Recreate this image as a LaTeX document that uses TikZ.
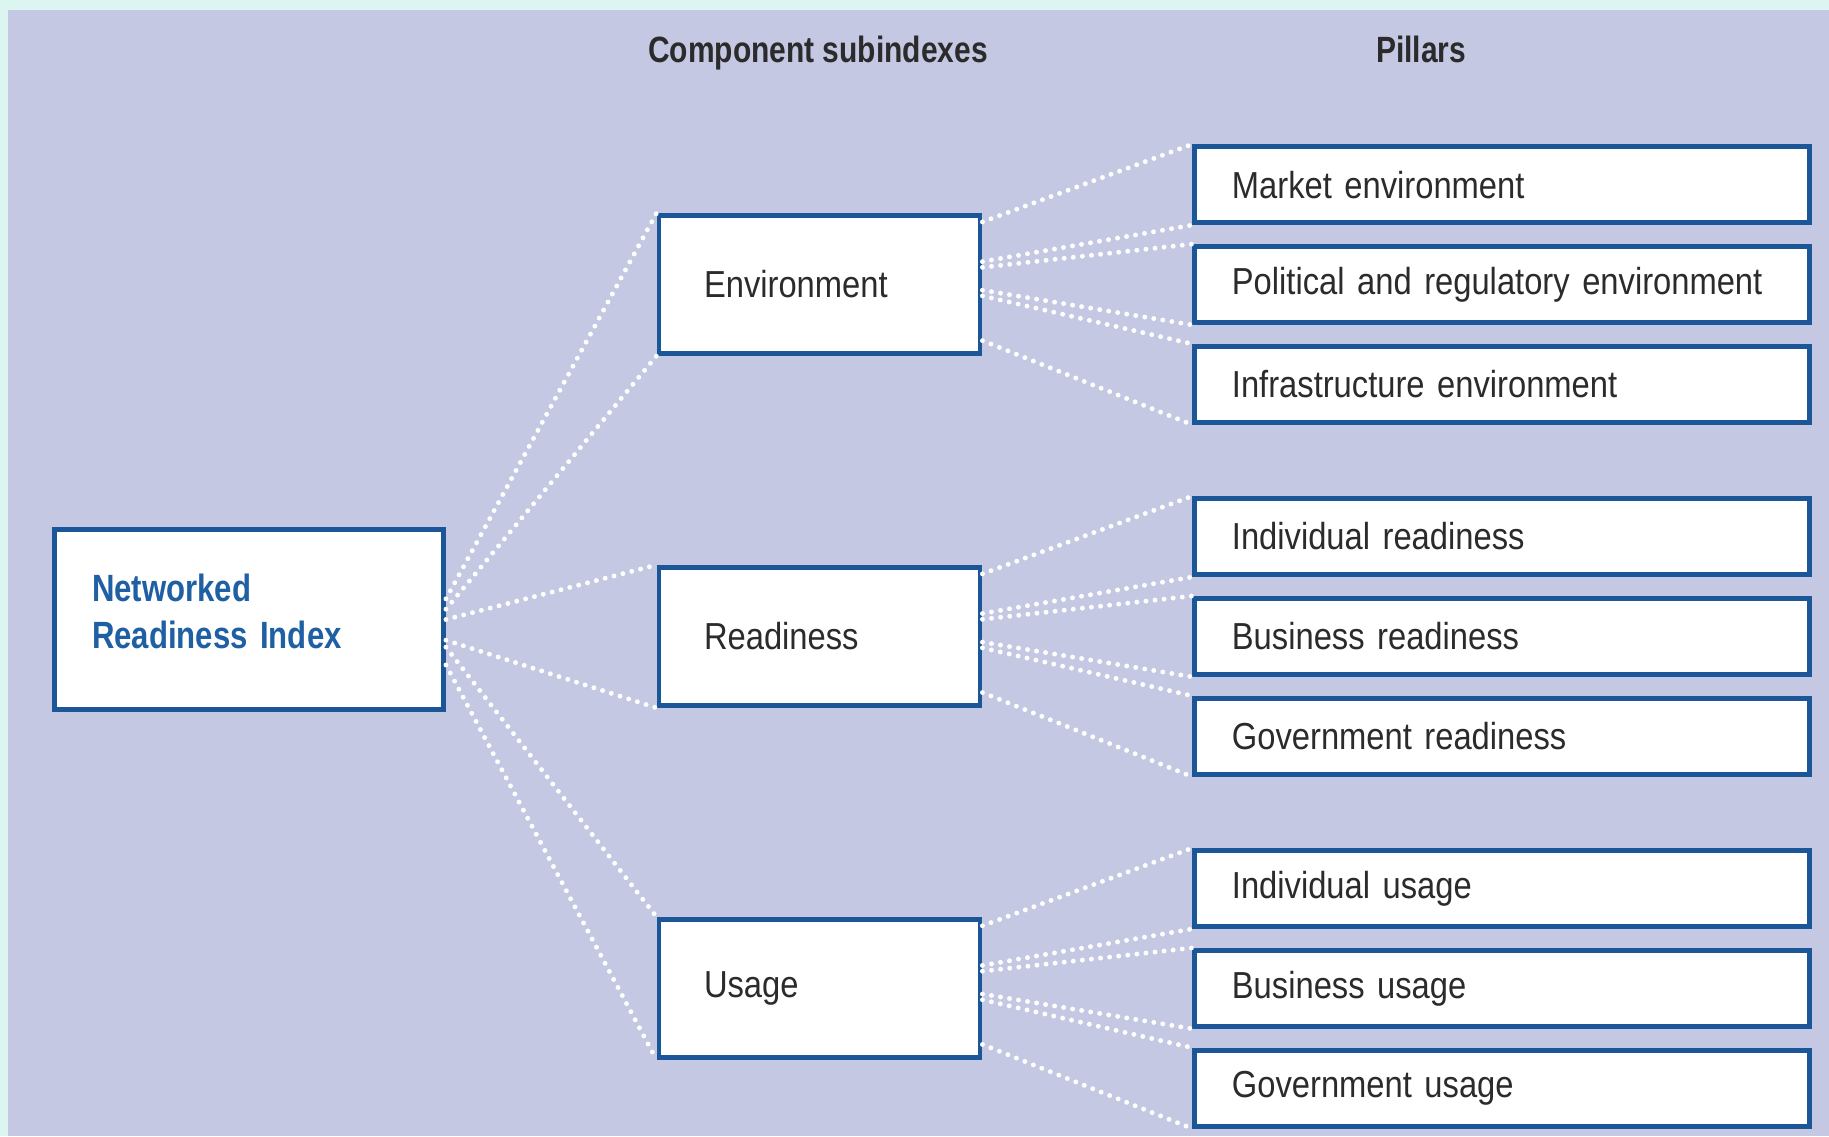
\documentclass[tikz,border=0pt]{standalone}
\usepackage{fontspec}
\setmainfont[FakeStretch=0.87]{Liberation Sans}
\newfontfamily\headfont[FakeStretch=0.82]{Liberation Sans}
\usetikzlibrary{positioning}
\definecolor{mintbg}{HTML}{DCF5F0}
\definecolor{panelbg}{HTML}{C4C8E2}
\definecolor{boxblue}{HTML}{1B5798}
\definecolor{nriblue}{HTML}{1F5FA3}
\definecolor{textgrey}{HTML}{2B2B2B}
\tikzset{
	box/.style={draw=boxblue, line width=1.4pt, fill=white, align=left, text=textgrey, font=\fontsize{10.7}{13}\selectfont},
	indexbox/.style={box, minimum height=1.80cm, inner xsep=0.375cm, text width=3.14cm, text depth=0.63cm, text=nriblue, font=\headfont\bfseries\fontsize{10.8}{13.4}\selectfont},
	subbox/.style={box, minimum height=1.38cm, inner xsep=0.45cm, text width=2.31cm},
	pillarbox/.style={box, minimum height=0.76cm, inner xsep=0.37cm, text width=5.41cm},
	heading/.style={anchor=base, text=textgrey, font=\headfont\bfseries\fontsize{10.4}{13}\selectfont},
	link/.style={white, line width=1.4pt, dash pattern=on 0pt off 2.6pt, line cap=round}
}

\begin{document}
\begin{tikzpicture}
			\useasboundingbox (0,0) rectangle (18.29,11.36);
			\fill[mintbg] (0,0) rectangle (18.29,11.36);
			\fill[panelbg] (0.08,0) rectangle (18.29,11.26);

			\node[heading] (subhead) at (8.18,10.74) {Component subindexes};
			\node[heading] (pillarhead) at (14.21,10.74) {Pillars};

			\node[indexbox] (nri) at (2.49,5.165) {Networked\\Readiness Index};

			\node[subbox] (env) at (8.195,8.515) {Environment};
			\node[subbox, below=2.09cm of env] (readiness) {Readiness};
			\node[subbox, below=2.09cm of readiness] (usage) {Usage};

			\node[pillarbox, right=2.1cm of env] (political) {Political and regulatory environment};
			\node[pillarbox, above=0.19cm of political] (market) {Market environment};
			\node[pillarbox, below=0.19cm of political] (infra) {Infrastructure environment};

			\node[pillarbox, right=2.1cm of readiness] (busready) {Business readiness};
			\node[pillarbox, above=0.19cm of busready] (indready) {Individual readiness};
			\node[pillarbox, below=0.19cm of busready] (govready) {Government readiness};

			\node[pillarbox, right=2.1cm of usage] (bususage) {Business usage};
			\node[pillarbox, above=0.19cm of bususage] (indusage) {Individual usage};
			\node[pillarbox, below=0.19cm of bususage] (govusage) {Government usage};

			\draw[link] (nri.6) -- (env.north west) (nri.3) -- (env.south west)
				(nri.0) -- (readiness.north west) (nri.-6) -- (readiness.south west)
				(nri.-8) -- (usage.north west) (nri.-13) -- (usage.south west);

			\draw[link] (env.21) -- (market.north west) (env.8) -- (market.south west)
				(env.6) -- (political.north west) (env.-2) -- (political.south west)
				(env.-4) -- (infra.north west) (env.-19) -- (infra.south west);
			\draw[link] (readiness.21) -- (indready.north west) (readiness.8) -- (indready.south west)
				(readiness.6) -- (busready.north west) (readiness.-2) -- (busready.south west)
				(readiness.-4) -- (govready.north west) (readiness.-19) -- (govready.south west);
			\draw[link] (usage.21) -- (indusage.north west) (usage.8) -- (indusage.south west)
				(usage.6) -- (bususage.north west) (usage.-2) -- (bususage.south west)
				(usage.-4) -- (govusage.north west) (usage.-19) -- (govusage.south west);
		\end{tikzpicture}
\end{document}
